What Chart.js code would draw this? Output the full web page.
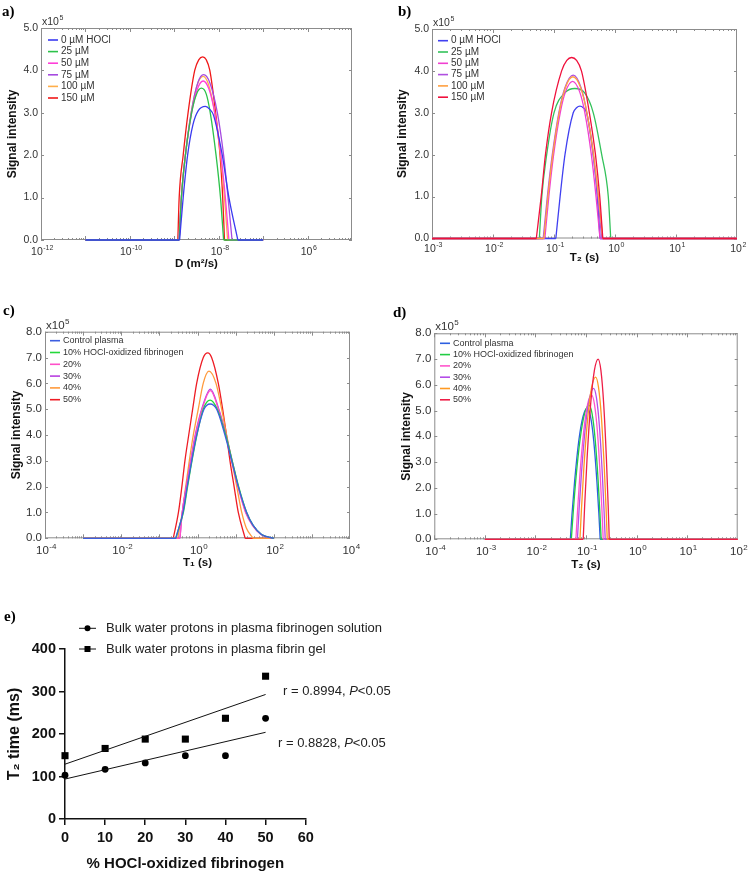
<!DOCTYPE html>
<html>
<head>
<meta charset="utf-8">
<title>HOCl relaxation figure</title>
<script src="https://cdn.jsdelivr.net/npm/chart.js@4.4.1/dist/chart.umd.min.js"></script>
<style>
  body { margin: 0; background: #fff; }
  #page { position: relative; width: 749px; height: 875px; overflow: hidden; }
  #page canvas { position: absolute; }
</style>
</head>
<body>
<div id="page">
  <canvas id="chartA" width="370" height="280" style="left:0;top:0"></canvas>
  <canvas id="chartB" width="379" height="280" style="left:370px;top:0"></canvas>
  <canvas id="chartC" width="370" height="285" style="left:0;top:290px"></canvas>
  <canvas id="chartD" width="379" height="285" style="left:370px;top:290px"></canvas>
  <canvas id="chartE" width="420" height="305" style="left:0;top:570px"></canvas>
</div>
<script>
// ---- data: x as log10 of the axis value, y in units of 10^5 ----
const hoclLabels = ['0 µM HOCl', '25 µM', '50 µM', '75 µM', '100 µM', '150 µM'];
const oxLabels = ['Control plasma', '10% HOCl-oxidized fibrinogen', '20%', '30%', '40%', '50%'];

// a) diffusion coefficient D (m2/s)
const aTickExps = [-12, -10, -8, -6];
const aTickLabels = ['-12', '-10', '-8', '6'];   // exponents as printed
const aBase = [-11, -7];
const a_0uM = [[-8.88,0],[-8.80,1.0],[-8.70,2.0],[-8.58,2.72],[-8.46,3.05],[-8.30,3.15],[-8.20,3.08],[-8.12,2.95],[-7.92,2.0],[-7.77,1.0],[-7.57,0]];
const a_25uM = [[-8.89,0],[-8.84,1.0],[-8.75,2.0],[-8.61,3.0],[-8.50,3.44],[-8.39,3.58],[-8.28,3.44],[-8.19,3.0],[-8.06,2.0],[-7.96,1.0],[-7.89,0]];
const a_50uM = [[-8.89,0],[-8.84,1.0],[-8.75,2.0],[-8.61,3.0],[-8.48,3.56],[-8.35,3.75],[-8.22,3.56],[-8.09,3.0],[-7.95,2.0],[-7.85,1.0],[-7.77,0]];
const a_75uM = [[-8.89,0],[-8.84,1.0],[-8.75,2.0],[-8.62,3.0],[-8.47,3.71],[-8.34,3.9],[-8.20,3.71],[-8.03,3.0],[-7.89,2.0],[-7.79,1.0],[-7.70,0]];
const a_100uM = [[-8.89,0],[-8.84,1.0],[-8.75,2.0],[-8.62,3.0],[-8.48,3.67],[-8.35,3.86],[-8.23,3.67],[-8.09,3.0],[-7.96,2.0],[-7.87,1.0],[-7.80,0]];
const a_150uM = [[-8.92,0],[-8.89,1.0],[-8.80,2.0],[-8.69,3.0],[-8.54,4.0],[-8.45,4.25],[-8.36,4.32],[-8.28,4.25],[-8.20,4.0],[-8.07,3.0],[-7.97,2.0],[-7.91,1.0],[-7.87,0]];

// b) T2 (s), HOCl series
const bTickExps = [-3, -2, -1, 0, 1, 2];
const bTickLabels = ['-3', '-2', '-1', '0', '1', '2'];
const bBase = [-3, 2];
const b_0uM = [[-0.97,0],[-0.90,1.0],[-0.82,2.0],[-0.685,3.0],[-0.63,3.12],[-0.575,3.16],[-0.52,3.12],[-0.465,3.0],[-0.356,2.0],[-0.29,1.0],[-0.246,0]];
const b_25uM = [[-1.24,0],[-1.20,1.0],[-1.12,2.0],[-1.0,3.0],[-0.82,3.48],[-0.657,3.58],[-0.50,3.48],[-0.356,3.0],[-0.218,2.0],[-0.11,1.0],[-0.07,0]];
const b_50uM = [[-1.15,0],[-1.085,1.0],[-1.006,2.0],[-0.898,3.0],[-0.812,3.5],[-0.695,3.75],[-0.579,3.5],[-0.494,3.0],[-0.388,2.0],[-0.311,1.0],[-0.246,0]];
const b_75uM = [[-1.177,0],[-1.109,1.0],[-1.028,2.0],[-0.921,3.0],[-0.821,3.6],[-0.685,3.9],[-0.556,3.6],[-0.461,3.0],[-0.359,2.0],[-0.282,1.0],[-0.218,0]];
const b_100uM = [[-1.166,0],[-1.10,1.0],[-1.02,2.0],[-0.915,3.0],[-0.814,3.6],[-0.69,3.86],[-0.563,3.6],[-0.46,3.0],[-0.351,2.0],[-0.27,1.0],[-0.202,0]];
const b_150uM = [[-1.29,0],[-1.21,1.0],[-1.14,2.0],[-1.04,3.0],[-0.875,4.0],[-0.79,4.25],[-0.711,4.32],[-0.63,4.25],[-0.55,4.0],[-0.42,3.0],[-0.32,2.0],[-0.25,1.0],[-0.20,0]];

// c) T1 (s), oxidized fibrinogen series
const cTickExps = [-4, -2, 0, 2, 4];
const cTickLabels = ['-4', '-2', '0', '2', '4'];
const cBase = [-3, 2];
const c_ctrl = [[-0.57,0],[-0.47,0.5],[-0.38,1.0],[-0.27,2.0],[-0.152,3.0],[-0.021,4.0],[0.17,5.0],[0.33,5.2],[0.503,5.0],[0.72,4.0],[0.897,3.0],[1.07,2.0],[1.29,1.0],[1.46,0.5],[1.68,0.15],[2.0,0]];
const c_10 = [[-0.57,0],[-0.47,0.5],[-0.37,1.0],[-0.26,2.0],[-0.145,3.0],[-0.015,4.0],[0.15,5.0],[0.33,5.35],[0.52,5.0],[0.74,4.0],[0.91,3.0],[1.08,2.0],[1.29,1.0],[1.46,0.5],[1.68,0.15],[2.0,0]];
const c_20 = [[-0.46,0],[-0.40,1.0],[-0.29,2.0],[-0.175,3.0],[-0.05,4.0],[0.12,5.0],[0.34,5.72],[0.55,5.0],[0.74,4.0],[0.90,3.0],[1.06,2.0],[1.26,1.0],[1.44,0.5],[1.66,0.15],[1.98,0]];
const c_30 = [[-0.46,0],[-0.40,1.0],[-0.295,2.0],[-0.18,3.0],[-0.06,4.0],[0.11,5.0],[0.34,5.78],[0.56,5.0],[0.75,4.0],[0.91,3.0],[1.07,2.0],[1.27,1.0],[1.45,0.5],[1.67,0.15],[1.98,0]];
const c_40 = [[-0.52,0],[-0.40,1.0],[-0.31,2.0],[-0.215,3.0],[-0.11,4.0],[0.02,5.0],[0.15,6.0],[0.30,6.47],[0.485,6.0],[0.634,5.0],[0.765,4.0],[0.897,3.0],[1.03,2.0],[1.16,1.0],[1.28,0.4],[1.46,0]];
const c_50 = [[-0.635,0],[-0.50,1.0],[-0.41,2.0],[-0.33,3.0],[-0.23,4.0],[-0.127,5.0],[-0.022,6.0],[0.152,7.0],[0.27,7.18],[0.37,7.0],[0.546,6.0],[0.66,5.0],[0.76,4.0],[0.852,3.0],[0.96,2.0],[1.07,1.0],[1.25,0]];

// d) T2 (s), oxidized fibrinogen series
const dTickExps = [-4, -3, -2, -1, 0, 1, 2];
const dTickLabels = ['-4', '-3', '-2', '-1', '0', '1', '2'];
const dBase = [-3, 2];
const d_ctrl = [[-1.31,0],[-1.277,0.97],[-1.226,2.23],[-1.143,3.82],[-1.059,4.77],[-0.975,5.09],[-0.911,4.77],[-0.847,3.82],[-0.784,2.23],[-0.745,0.97],[-0.72,0]];
const d_10 = [[-1.29,0],[-1.255,0.99],[-1.203,2.28],[-1.115,3.91],[-1.028,4.88],[-0.94,5.21],[-0.88,4.88],[-0.82,3.91],[-0.76,2.28],[-0.724,0.99],[-0.70,0]];
const d_20 = [[-1.20,0],[-1.169,1.06],[-1.123,2.45],[-1.045,4.2],[-0.968,5.25],[-0.89,5.6],[-0.833,5.25],[-0.775,4.2],[-0.718,2.45],[-0.683,1.06],[-0.66,0]];
const d_30 = [[-1.17,0],[-1.138,1.11],[-1.09,2.56],[-1.01,4.4],[-0.93,5.49],[-0.85,5.86],[-0.793,5.49],[-0.735,4.4],[-0.678,2.56],[-0.643,1.11],[-0.62,0]];
const d_40 = [[-1.12,0],[-1.089,1.2],[-1.043,2.76],[-0.965,4.73],[-0.888,5.91],[-0.81,6.3],[-0.753,5.91],[-0.695,4.73],[-0.638,2.76],[-0.603,1.2],[-0.58,0]];
const d_50 = [[-1.055,0],[-1.026,1.33],[-0.981,3.06],[-0.908,5.25],[-0.834,6.56],[-0.76,7.0],[-0.705,6.56],[-0.65,5.25],[-0.595,3.06],[-0.562,1.33],[-0.54,0]];

// e) T2 time vs % oxidized fibrinogen
const ePct = [0, 10, 20, 30, 40, 50];
const eSolution = [103, 117, 132, 149, 149, 237];
const eGel = [149, 166, 188, 188, 237, 336];
const eFitX = [0, 50];
const eSolutionFit = [94, 204];
const eGelFit = [129, 293];
const eLegend = ['Bulk water protons in plasma fibrinogen solution', 'Bulk water protons in plasma fibrin gel'];
const eR = ['0.8994', '0.8828'];

Chart.defaults.font.family = "'Liberation Sans', Arial, Helvetica, sans-serif";
Chart.defaults.color = '#333';
const FONT = "'Liberation Sans', Arial, sans-serif";

// baseline, then the peak drawn as its own piece so its foot stays sharp
function curveData(base, arch) {
  const first = arch[0][0], last = arch[arch.length - 1][0];
  const pts = [{x: 10 ** base[0], y: 0}, {x: 10 ** first, y: 0}, {x: 10 ** first, y: null}];
  arch.forEach(p => pts.push({x: 10 ** p[0], y: p[1]}));
  pts.push({x: 10 ** last, y: null}, {x: 10 ** last, y: 0}, {x: 10 ** base[1], y: 0});
  return pts;
}

function decor(cfg) {
  return {
    id: 'decor',
    beforeDatasetsDraw(chart) {
      const {ctx, chartArea: a, scales: {x, y}} = chart;
      ctx.save();
      ctx.strokeStyle = '#8c8c8c';
      ctx.lineWidth = 1;
      ctx.strokeRect(a.left + 0.5, a.top + 0.5, a.right - a.left - 1, a.bottom - a.top - 1);
      ctx.beginPath();
      for (let e = cfg.xRange[0]; e < cfg.xRange[1]; e++) {
        for (let k = 1; k <= 9; k++) {
          const px = Math.round(x.getPixelForValue(k * 10 ** e)) + 0.5;
          const len = k === 1 ? 4 : 2;
          ctx.moveTo(px, a.bottom); ctx.lineTo(px, a.bottom - len);
          ctx.moveTo(px, a.top); ctx.lineTo(px, a.top + len);
        }
      }
      y.ticks.forEach(t => {
        const py = Math.round(y.getPixelForValue(t.value)) + 0.5;
        ctx.moveTo(a.left, py); ctx.lineTo(a.left + 3, py);
        ctx.moveTo(a.right, py); ctx.lineTo(a.right - 3, py);
      });
      ctx.stroke();
      ctx.restore();
    },
    afterDraw(chart) {
      const {ctx, chartArea: a, scales: {x}} = chart;
      ctx.save();
      // power-of-ten tick labels
      const big = cfg.tickFont + 'px ' + FONT;
      const small = Math.round(cfg.tickFont * 0.7) + 'px ' + FONT;
      ctx.fillStyle = '#333';
      ctx.textBaseline = 'alphabetic';
      x.ticks.forEach((t, i) => {
        const px = x.getPixelForValue(t.value);
        const ex = cfg.tickLabels[i];
        ctx.font = big;
        const wb = ctx.measureText('10').width;
        ctx.font = small;
        const we = ctx.measureText(ex).width;
        const x0 = px - (wb + we) / 2 + 1;
        const yb = a.bottom + cfg.xtp + cfg.tickFont;
        ctx.font = big;
        ctx.fillText('10', x0, yb);
        ctx.font = small;
        ctx.fillText(ex, x0 + wb + 0.5, yb - cfg.tickFont * 0.45);
      });
      // legend
      ctx.font = cfg.legendFont + 'px ' + FONT;
      ctx.textBaseline = 'middle';
      cfg.labels.forEach((lab, i) => {
        const yy = a.top + cfg.legendTop + i * cfg.legendGap;
        ctx.strokeStyle = cfg.colors[i];
        ctx.lineWidth = 1.6;
        ctx.beginPath();
        ctx.moveTo(a.left + cfg.legendX, yy);
        ctx.lineTo(a.left + cfg.legendX + 10, yy);
        ctx.stroke();
        ctx.fillStyle = '#333';
        ctx.fillText(lab, a.left + cfg.legendX + 13, yy);
      });
      // multiplier
      ctx.textBaseline = 'alphabetic';
      ctx.font = cfg.tickFont + 'px ' + FONT;
      ctx.fillStyle = '#333';
      ctx.fillText('x10', a.left + 1, a.top - 3);
      const w10 = ctx.measureText('x10').width;
      ctx.font = small;
      ctx.fillText('5', a.left + 1.5 + w10, a.top - 3 - cfg.tickFont * 0.45);
      // panel letter
      ctx.font = "bold 15px 'Liberation Serif', 'Times New Roman', serif";
      ctx.fillStyle = '#000';
      ctx.fillText(cfg.letter, cfg.letterPos[0], cfg.letterPos[1]);
      ctx.restore();
    }
  };
}

function spectrumPanel(id, cfg) {
  return new Chart(document.getElementById(id), {
    type: 'line',
    data: {
      datasets: cfg.curves.map((arch, i) => ({
        label: cfg.labels[i],
        data: curveData(cfg.base, arch),
        borderColor: cfg.colors[i],
        borderWidth: 1.3,
        pointRadius: 0,
        cubicInterpolationMode: 'monotone',
        spanGaps: false,
        clip: 3,
        order: cfg.lastOnTop ? -i : i
      }))
    },
    options: {
      responsive: false,
      animation: false,
      events: [],
      layout: {padding: cfg.pad},
      plugins: {legend: {display: false}, tooltip: {enabled: false}},
      scales: {
        x: {
          type: 'logarithmic',
          min: 10 ** cfg.xRange[0],
          max: 10 ** cfg.xRange[1],
          afterBuildTicks: s => { s.ticks = cfg.tickExps.map(e => ({value: 10 ** e})); },
          afterFit: s => { s.height = cfg.xh; },
          grid: {display: false, drawTicks: false},
          border: {display: false},
          ticks: {display: false, autoSkip: false},
          title: {
            display: true, text: cfg.xTitle, color: '#111',
            font: {size: 11.5, weight: 'bold'}, padding: {top: 0, bottom: cfg.xtb}
          }
        },
        y: {
          min: 0,
          max: cfg.yMax,
          afterFit: s => { s.width = cfg.yw; },
          grid: {display: false, drawTicks: false},
          border: {display: false},
          ticks: {stepSize: 1, padding: 3, color: '#333', font: {size: cfg.tickFont}, callback: v => v.toFixed(1)},
          title: {
            display: true, text: 'Signal intensity', color: '#111',
            font: {size: 12, weight: 'bold'}, padding: {top: cfg.ytp, bottom: 0}
          }
        }
      }
    },
    plugins: [decor(cfg)]
  });
}

spectrumPanel('chartA', {
  curves: [a_0uM, a_25uM, a_50uM, a_75uM, a_100uM, a_150uM],
  labels: hoclLabels,
  colors: ['#3a3af0', '#2cc24a', '#ff3fd8', '#a64ae0', '#ffae4a', '#f01818'],
  base: aBase, xRange: [-12, -5], tickExps: aTickExps, tickLabels: aTickLabels,
  xTitle: 'D (m²/s)', yMax: 5,
  pad: {left: 0, top: 28, right: 18, bottom: 0}, yw: 41, xh: 40, xtp: 4, xtb: 9, ytp: 5.8,
  tickFont: 10.5, legendFont: 10, legendX: 7, legendTop: 12, legendGap: 11.6,
  letter: 'a)', letterPos: [2, 16], lastOnTop: false
});

spectrumPanel('chartB', {
  curves: [b_0uM, b_25uM, b_50uM, b_75uM, b_100uM, b_150uM],
  labels: hoclLabels,
  colors: ['#4040f0', '#33c25a', '#f040d0', '#b050e0', '#ffa040', '#f0103c'],
  base: bBase, xRange: [-3, 2], tickExps: bTickExps, tickLabels: bTickLabels,
  xTitle: 'T₂ (s)', yMax: 5,
  pad: {left: 0, top: 29, right: 12, bottom: 0}, yw: 62, xh: 41.5, xtp: 3, xtb: 15, ytp: 25.8,
  tickFont: 10.5, legendFont: 10, legendX: 6, legendTop: 11.7, legendGap: 11.3,
  letter: 'b)', letterPos: [28, 16], lastOnTop: true
});

spectrumPanel('chartC', {
  curves: [c_ctrl, c_10, c_20, c_30, c_40, c_50],
  labels: oxLabels,
  colors: ['#3c5ee0', '#24d83a', '#ff4fc8', '#b840e0', '#ff9a3c', '#ee1c24'],
  base: cBase, xRange: [-4, 4], tickExps: cTickExps, tickLabels: cTickLabels,
  xTitle: 'T₁ (s)', yMax: 8,
  pad: {left: 0, top: 41.7, right: 20, bottom: 0}, yw: 45, xh: 36.7, xtp: 4, xtb: 5, ytp: 9.5,
  tickFont: 11.5, legendFont: 9, legendX: 5, legendTop: 9, legendGap: 11.8,
  letter: 'c)', letterPos: [3, 25], lastOnTop: false
});

spectrumPanel('chartD', {
  curves: [d_ctrl, d_10, d_20, d_30, d_40, d_50],
  labels: oxLabels,
  colors: ['#2c5fe0', '#22cc44', '#ff55cc', '#b44de8', '#ff9922', '#ee1e46'],
  base: dBase, xRange: [-4, 2], tickExps: dTickExps, tickLabels: dTickLabels,
  xTitle: 'T₂ (s)', yMax: 8,
  pad: {left: 0, top: 43.3, right: 11.3, bottom: 0}, yw: 64.3, xh: 35.7, xtp: 4, xtb: 3, ytp: 29.5,
  tickFont: 11.5, legendFont: 9, legendX: 5.7, legendTop: 10, legendGap: 11.3,
  letter: 'd)', letterPos: [23, 27], lastOnTop: true
});

// e) scatter with regression lines
const ePlugin = {
  id: 'eDecor',
  afterDraw(chart) {
    const {ctx} = chart;
    ctx.save();
    ctx.textBaseline = 'middle';
    // legend rows
    const rows = [58.3, 79];
    rows.forEach((yy, i) => {
      ctx.strokeStyle = '#111';
      ctx.lineWidth = 1;
      ctx.beginPath(); ctx.moveTo(79, yy); ctx.lineTo(96, yy); ctx.stroke();
      ctx.fillStyle = '#000';
      if (i === 0) { ctx.beginPath(); ctx.arc(87.5, yy, 3, 0, Math.PI * 2); ctx.fill(); }
      else ctx.fillRect(84.5, yy - 3, 6, 6);
      ctx.fillStyle = '#222';
      ctx.font = '13px ' + FONT;
      ctx.fillText(eLegend[i], 106, yy);
    });
    // correlation labels
    const stats = [[283, 121.7], [278, 173.3]];
    stats.forEach((p, i) => {
      let xx = p[0];
      const t1 = 'r = ' + eR[i] + ', ';
      ctx.font = '13px ' + FONT;
      ctx.fillText(t1, xx, p[1]);
      xx += ctx.measureText(t1).width;
      ctx.font = 'italic 13px ' + FONT;
      ctx.fillText('P', xx, p[1]);
      xx += ctx.measureText('P').width;
      ctx.font = '13px ' + FONT;
      ctx.fillText('<0.05', xx, p[1]);
    });
    ctx.font = "bold 15px 'Liberation Serif', 'Times New Roman', serif";
    ctx.fillStyle = '#000';
    ctx.textBaseline = 'alphabetic';
    ctx.fillText('e)', 4, 51);
    ctx.restore();
  }
};

const axisE = {
  grid: {display: true, drawOnChartArea: false, drawTicks: true, tickLength: 6, color: '#111', lineWidth: 1.5},
  border: {display: true, color: '#111', width: 1.5}
};

new Chart(document.getElementById('chartE'), {
  type: 'scatter',
  data: {
    datasets: [
      {data: eFitX.map((x, i) => ({x, y: eGelFit[i]})), showLine: true, borderColor: '#111', borderWidth: 1, pointRadius: 0},
      {data: eFitX.map((x, i) => ({x, y: eSolutionFit[i]})), showLine: true, borderColor: '#111', borderWidth: 1, pointRadius: 0},
      {data: ePct.map((x, i) => ({x, y: eSolution[i]})), pointStyle: 'circle', pointRadius: 3.4, backgroundColor: '#000', borderWidth: 0, clip: false},
      {data: ePct.map((x, i) => ({x, y: eGel[i]})), pointStyle: 'rect', pointRadius: 5, backgroundColor: '#000', borderWidth: 0, clip: false}
    ]
  },
  options: {
    responsive: false,
    animation: false,
    events: [],
    layout: {padding: {left: 0, top: 79, right: 114.3, bottom: 0}},
    plugins: {legend: {display: false}, tooltip: {enabled: false}},
    scales: {
      x: Object.assign({
        type: 'linear', min: 0, max: 60,
        afterFit: s => { s.height = 56; },
        ticks: {stepSize: 10, padding: 4, color: '#111', font: {size: 14.5, weight: 'bold'}},
        title: {display: true, text: '% HOCl-oxidized fibrinogen', color: '#111', font: {size: 15, weight: 'bold'}, padding: {top: 0, bottom: 2}}
      }, axisE),
      y: Object.assign({
        min: 0, max: 400,
        afterFit: s => { s.width = 65; },
        ticks: {stepSize: 100, padding: 3, color: '#111', font: {size: 14.5, weight: 'bold'}},
        title: {display: true, text: 'T₂ time (ms)', color: '#111', font: {size: 16, weight: 'bold'}, padding: {top: 5, bottom: 0}}
      }, axisE)
    }
  },
  plugins: [ePlugin]
});
</script>
</body>
</html>
